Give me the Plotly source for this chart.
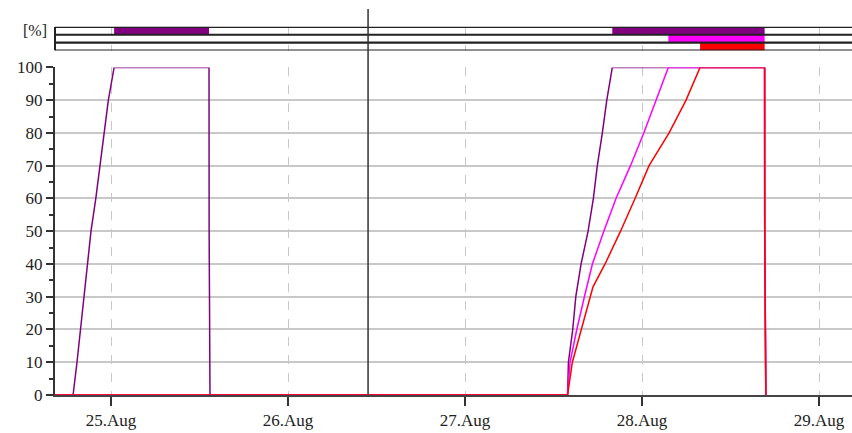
import pandas as pd
import plotly.graph_objects as go

# ---------------- data ----------------
purple_times = [
    "2013-08-24 12:00", "2013-08-24 18:51", "2013-08-24 19:23", "2013-08-24 19:52",
    "2013-08-24 20:20", "2013-08-24 20:49", "2013-08-24 21:17", "2013-08-24 21:56",
    "2013-08-24 22:31", "2013-08-24 23:03", "2013-08-24 23:38", "2013-08-25 00:25",
    "2013-08-25 13:17", "2013-08-25 13:18", "2013-08-25 13:25",
    "2013-08-27 13:54", "2013-08-27 14:01", "2013-08-27 14:36", "2013-08-27 15:01",
    "2013-08-27 15:44", "2013-08-27 16:41", "2013-08-27 17:24", "2013-08-27 17:56",
    "2013-08-27 18:37", "2013-08-27 19:13", "2013-08-27 19:58",
    "2013-08-28 16:37", "2013-08-28 16:38", "2013-08-28 16:47",
]
purple_values = [
    0, 0, 10, 20, 30, 40, 50, 60, 70, 80, 90, 100,
    100, 50, 0,
    0, 10, 20, 30, 40, 50, 60, 70, 80, 90, 100,
    100, 50, 0,
]

magenta_times = [
    "2013-08-24 12:00", "2013-08-27 13:54", "2013-08-27 14:14", "2013-08-27 15:09",
    "2013-08-27 16:11", "2013-08-27 17:16", "2013-08-27 18:49", "2013-08-27 20:28",
    "2013-08-27 22:26", "2013-08-28 00:14", "2013-08-28 01:54", "2013-08-28 03:34",
    "2013-08-28 16:37", "2013-08-28 16:38", "2013-08-28 16:47",
]
magenta_values = [0, 0, 10, 20, 30, 40, 50, 60, 70, 80, 90, 100, 100, 50, 0]

red_times = [
    "2013-08-24 12:00", "2013-08-27 13:54", "2013-08-27 14:33", "2013-08-27 15:44",
    "2013-08-27 16:57", "2013-08-27 17:21", "2013-08-27 18:59", "2013-08-27 21:05",
    "2013-08-27 23:03", "2013-08-28 00:57", "2013-08-28 03:40", "2013-08-28 05:58",
    "2013-08-28 07:52", "2013-08-28 16:37", "2013-08-28 16:38", "2013-08-28 16:47",
]
red_values = [0, 0, 10, 20, 30, 33, 40, 50, 60, 70, 80, 90, 100, 100, 50, 0]

series_names = ["purple", "magenta", "red"]
series_colors = ["#800080", "#FF00FF", "#FF0000"]
band_rows = [2, 1, 0]

x_range = ["2013-08-24 16:24", "2013-08-29 04:28"]
now_time = "2013-08-26 10:51"
y_ticks = [0, 10, 20, 30, 40, 50, 60, 70, 80, 90, 100]

series = [
    (purple_times, purple_values),
    (magenta_times, magenta_values),
    (red_times, red_values),
]


def full_intervals(times, values):
    """Intervals where the series sits at 100 %."""
    out = []
    start = None
    end = None
    for t, v in zip(times, values):
        if v >= 100 and start is None:
            start = t
            end = t
        elif v >= 100:
            end = t
        if v < 100 and start is not None:
            out.append((start, end))
            start = None
    return out


fig = go.Figure()

FONT = "Liberation Serif"

# line traces
for (t, v), name, col in zip(series, series_names, series_colors):
    fig.add_trace(go.Scatter(
        x=pd.to_datetime(t), y=v, mode="lines", name=name,
        line=dict(color=col, width=1.5), xaxis="x", yaxis="y",
        showlegend=False,
    ))

# strip bars (full state)
for (t, v), name, col, row in zip(series, series_names, series_colors, band_rows):
    iv = full_intervals(t, v)
    if not iv:
        continue
    starts = [pd.Timestamp(a) for a, b in iv]
    durs = [(pd.Timestamp(b) - pd.Timestamp(a)).total_seconds() * 1000 for a, b in iv]
    fig.add_trace(go.Bar(
        orientation="h", y=[row] * len(iv), x=durs, base=starts,
        width=1.0, marker=dict(color=col, line=dict(width=0)),
        xaxis="x", yaxis="y2", showlegend=False,
    ))

# geometry (px): plot top 5, bottom 395 (total 390)
H = 390.0
main_top = (395 - 64) / H
strip_bot = (395 - 47) / H
strip_top = (395 - 23) / H

shapes = []
for yv in [-0.5, 0.5, 1.5, 2.5]:
    shapes.append(dict(type="line", xref="paper", yref="y2", x0=0, x1=1,
                       y0=yv, y1=yv, line=dict(color="#222222", width=2.2), layer="above"))
shapes.append(dict(type="line", xref="paper", yref="y2", x0=0, x1=0,
                   y0=-0.5, y1=2.5, line=dict(color="#222222", width=2), layer="above"))
shapes.append(dict(type="line", xref="x", yref="paper", x0=now_time, x1=now_time,
                   y0=0, y1=1, line=dict(color="#333333", width=1.5), layer="above"))

fig.update_layout(
    width=852, height=433, autosize=False,
    margin=dict(l=55, r=0, t=5, b=38),
    paper_bgcolor="white", plot_bgcolor="white",
    barmode="overlay", showlegend=False,
    font=dict(family=FONT, size=17, color="#222222"),
    xaxis=dict(
        type="date", range=x_range, anchor="y",
        tickformat="%d.%b", dtick=86400000, tick0="2013-08-25",
        ticks="outside", ticklen=9, tickwidth=1.5, tickcolor="#333333",
        showline=True, linecolor="#444444", linewidth=2,
        showgrid=True, gridcolor="#c8c8c8", griddash="dash", gridwidth=1,
        zeroline=False, tickfont=dict(family=FONT, size=17, color="#222222"),
    ),
    yaxis=dict(
        domain=[0, main_top], range=[0, 100], tickvals=y_ticks,
        ticks="outside", ticklen=7, tickwidth=1.5, tickcolor="#333333",
        showline=True, linecolor="#333333", linewidth=2,
        showgrid=True, gridcolor="#c8c8c8", gridwidth=2,
        zeroline=False, tickfont=dict(family=FONT, size=17, color="#222222"),
        minor=dict(dtick=5, ticks="outside", ticklen=4, tickcolor="#333333",
                   showgrid=False),
    ),
    yaxis2=dict(
        domain=[strip_bot, strip_top], range=[-0.5, 2.5], anchor="x",
        showticklabels=False, showgrid=False, zeroline=False, showline=False,
        ticks="",
    ),
    shapes=shapes,
    annotations=[dict(
        text="[%]", xref="paper", yref="paper", x=0, y=(395 - 27) / H,
        xanchor="right", yanchor="middle", xshift=-6, showarrow=False,
        font=dict(family=FONT, size=16, color="#222222"),
    )],
)

fig.write_html(
    "out.html",
    config={"displayModeBar": False},
    post_script="document.body.style.margin='0';document.body.style.overflow='hidden';",
)
